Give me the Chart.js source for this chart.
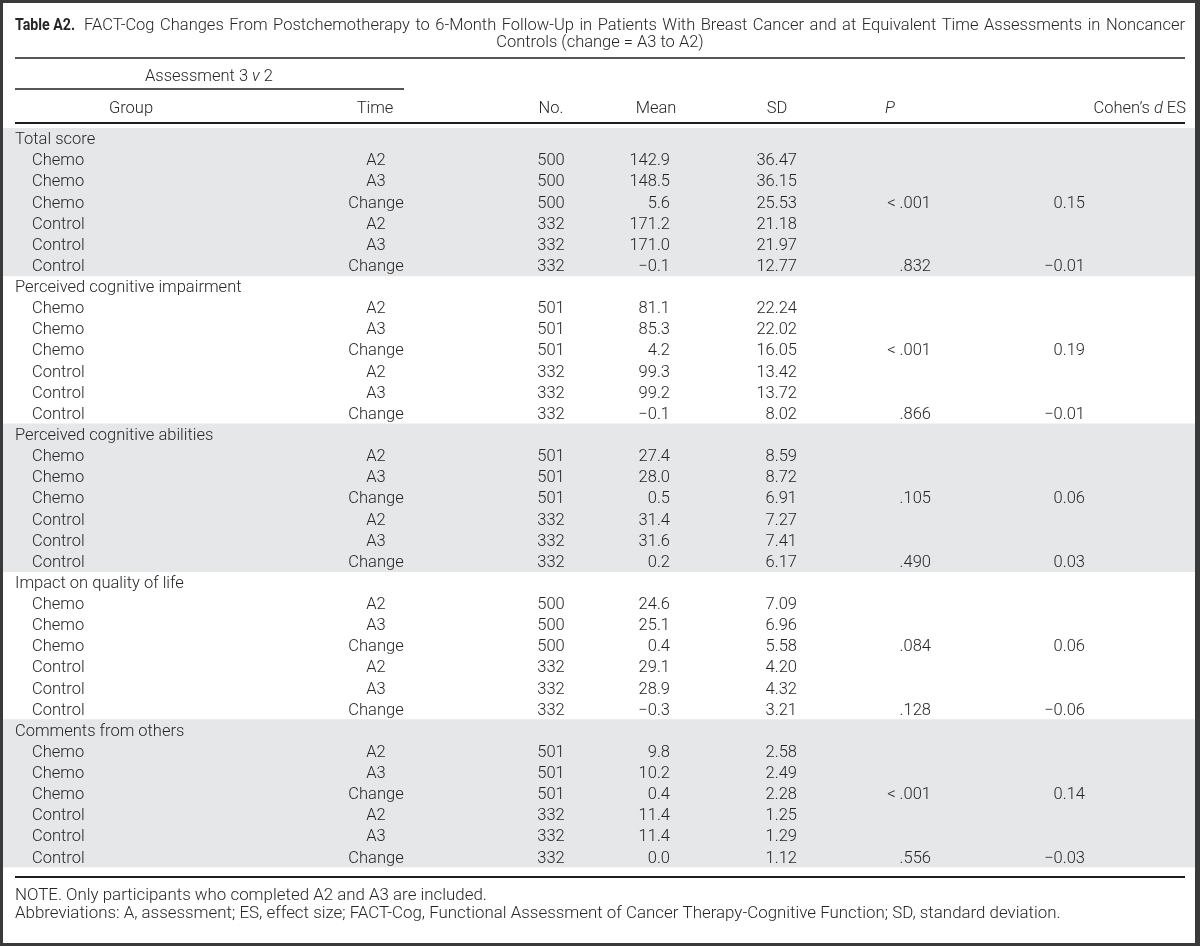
<!DOCTYPE html>
<html lang="en">
<head>
    <meta charset="UTF-8">
    <title>Table A2</title>
    <script src="https://cdn.jsdelivr.net/npm/chart.js"></script>
    <style>
        html, body {
            margin: 0;
            padding: 0;
            background: #fff;
            overflow: hidden;
        }
        .table-wrap {
            width: 1200px;
            height: 946px;
            position: relative;
        }
    </style>
</head>
<body>
    <div class="table-wrap">
        <canvas id="tableChart"></canvas>
    </div>

    <script>
        // Table values
        const sections = ['Total score', 'Perceived cognitive impairment', 'Perceived cognitive abilities',
            'Impact on quality of life', 'Comments from others'];
        const groupLabels = ['Chemo', 'Chemo', 'Chemo', 'Control', 'Control', 'Control'];
        const timeLabels = ['A2', 'A3', 'Change', 'A2', 'A3', 'Change'];
        const nValues = [
            [500, 500, 500, 332, 332, 332],
            [501, 501, 501, 332, 332, 332],
            [501, 501, 501, 332, 332, 332],
            [500, 500, 500, 332, 332, 332],
            [501, 501, 501, 332, 332, 332]
        ];
        const meanValues = [
            [142.9, 148.5, 5.6, 171.2, 171.0, -0.1],
            [81.1, 85.3, 4.2, 99.3, 99.2, -0.1],
            [27.4, 28.0, 0.5, 31.4, 31.6, 0.2],
            [24.6, 25.1, 0.4, 29.1, 28.9, -0.3],
            [9.8, 10.2, 0.4, 11.4, 11.4, 0.0]
        ];
        const sdValues = [
            [36.47, 36.15, 25.53, 21.18, 21.97, 12.77],
            [22.24, 22.02, 16.05, 13.42, 13.72, 8.02],
            [8.59, 8.72, 6.91, 7.27, 7.41, 6.17],
            [7.09, 6.96, 5.58, 4.20, 4.32, 3.21],
            [2.58, 2.49, 2.28, 1.25, 1.29, 1.12]
        ];
        // P and effect size only on the two "Change" rows of each section
        const pValues = [
            ['< .001', '.832'],
            ['< .001', '.866'],
            ['.105', '.490'],
            ['.084', '.128'],
            ['< .001', '.556']
        ];
        const esValues = [
            [0.15, -0.01],
            [0.19, -0.01],
            [0.06, 0.03],
            [0.06, -0.06],
            [0.14, -0.03]
        ];
        const titleLabel = 'Table A2.';
        const titleLine1 = 'FACT-Cog Changes From Postchemotherapy to 6-Month Follow-Up in Patients With Breast Cancer and at Equivalent Time Assessments in Noncancer';
        const titleLine2 = 'Controls (change = A3 to A2)';
        const noteLines = [
            'NOTE. Only participants who completed A2 and A3 are included.',
            'Abbreviations: A, assessment; ES, effect size; FACT-Cog, Functional Assessment of Cancer Therapy-Cognitive Function; SD, standard deviation.'
        ];

        // Build the row list (one category per printed row)
        const rows = [];
        sections.forEach((name, s) => {
            rows.push({ kind: 'section', label: name, section: s });
            for (let r = 0; r < 6; r++) {
                const change = timeLabels[r] === 'Change';
                const which = r < 3 ? 0 : 1;
                rows.push({
                    kind: 'data',
                    section: s,
                    group: groupLabels[r],
                    time: timeLabels[r],
                    n: nValues[s][r],
                    mean: meanValues[s][r],
                    sd: sdValues[s][r],
                    p: change ? pValues[s][which] : null,
                    es: change ? esValues[s][which] : null
                });
            }
        });
        const rowLabels = rows.map(r => r.kind === 'section' ? r.label : r.group + ' ' + r.time);
        // shaded bands on every other section
        const bandData = rows.map(r => r.section % 2 === 0 ? [3, 1195] : null);

        const fmt = (v, d) => (v < 0 ? '\u2212' : '') + Math.abs(v).toFixed(d);

        const TEXT = '#262626';
        const FONT = 'Roboto';
        const SIZE = 16.5;
        const DY = 1.5; // canvas "middle" sits a bit high for this face

        function setFont(ctx, seg) {
            ctx.font = (seg.i ? 'italic ' : '') + (seg.b ? '700 ' : '300 ') + (seg.size || SIZE) + 'px ' + FONT;
        }

        function segWidth(ctx, seg) {
            setFont(ctx, seg);
            return ctx.measureText(seg.t).width * (seg.sx || 1);
        }

        function drawRich(ctx, segs, x, y, align) {
            const total = segs.reduce((a, s) => a + segWidth(ctx, s), 0);
            let cx = align === 'center' ? x - total / 2 : align === 'right' ? x - total : x;
            segs.forEach(s => {
                const w = segWidth(ctx, s);
                ctx.save();
                setFont(ctx, s);
                ctx.translate(cx, y + DY);
                ctx.scale(s.sx || 1, 1);
                ctx.textAlign = 'left';
                ctx.textBaseline = 'middle';
                ctx.fillStyle = TEXT;
                ctx.fillText(s.t, 0, 0);
                ctx.restore();
                cx += w;
            });
            return cx;
        }

        function drawText(ctx, str, x, y, align, size) {
            drawRich(ctx, [{ t: str, size: size }], x, y, align);
        }

        // words spread so the line fills x1..x2
        function drawJustified(ctx, str, x1, x2, y) {
            const words = str.split(' ');
            const widths = words.map(w => segWidth(ctx, { t: w }));
            const gap = (x2 - x1 - widths.reduce((a, b) => a + b, 0)) / (words.length - 1);
            let cx = x1;
            words.forEach((w, k) => {
                drawText(ctx, w, cx, y, 'left');
                cx += widths[k] + gap;
            });
        }

        function rule(ctx, x1, x2, y, w) {
            ctx.save();
            ctx.strokeStyle = '#1e1e1e';
            ctx.lineWidth = w;
            ctx.beginPath();
            ctx.moveTo(x1, y);
            ctx.lineTo(x2, y);
            ctx.stroke();
            ctx.restore();
        }

        const tablePlugin = {
            id: 'tableText',
            afterDatasetsDraw(chart) {
                const ctx = chart.ctx;
                const x = chart.scales.x;
                const y = chart.scales.y;

                // frame
                ctx.save();
                ctx.fillStyle = '#3a3a3a';
                ctx.fillRect(0, 0, 1200, 3);
                ctx.fillRect(0, 943, 1200, 3);
                ctx.fillRect(0, 0, 3, 946);
                ctx.fillRect(1195, 0, 5, 946);
                ctx.restore();

                // title
                const after = drawRich(ctx, [{ t: titleLabel, b: true, sx: 0.86 }], 15, 24, 'left');
                drawJustified(ctx, titleLine1, after + 9, 1185, 24);
                drawText(ctx, titleLine2, 600, 41, 'center');
                rule(ctx, 15, 1185, 58, 1.6);

                // column headers
                drawRich(ctx, [{ t: 'Assessment 3 ' }, { t: 'v', i: true }, { t: ' 2' }], 209, 75, 'center');
                rule(ctx, 15, 404, 89, 1.4);
                drawText(ctx, 'Group', x.getPixelForValue(131), 107, 'center');
                drawText(ctx, 'Time', x.getPixelForValue(375), 107, 'center');
                drawText(ctx, 'No.', x.getPixelForValue(551), 107, 'center');
                drawText(ctx, 'Mean', x.getPixelForValue(656), 107, 'center');
                drawText(ctx, 'SD', x.getPixelForValue(777), 107, 'center');
                drawRich(ctx, [{ t: 'P', i: true }], x.getPixelForValue(890), 107, 'center');
                drawRich(ctx, [{ t: 'Cohen\u2019s ' }, { t: 'd', i: true }, { t: ' ES' }], x.getPixelForValue(1186), 107, 'right');
                rule(ctx, 15, 1185, 123, 1.8);

                // body
                rows.forEach((r, i) => {
                    const py = y.getPixelForValue(i);
                    if (r.kind === 'section') {
                        drawText(ctx, r.label, x.getPixelForValue(15), py, 'left');
                        return;
                    }
                    drawText(ctx, r.group, x.getPixelForValue(32), py, 'left');
                    drawText(ctx, r.time, x.getPixelForValue(376), py, 'center');
                    drawText(ctx, String(r.n), x.getPixelForValue(551), py, 'center');
                    drawText(ctx, fmt(r.mean, 1), x.getPixelForValue(670), py, 'right');
                    drawText(ctx, r.sd.toFixed(2), x.getPixelForValue(797), py, 'right');
                    if (r.p !== null) drawText(ctx, r.p, x.getPixelForValue(931), py, 'right');
                    if (r.es !== null) drawText(ctx, fmt(r.es, 2), x.getPixelForValue(1085), py, 'right');
                });

                rule(ctx, 15, 1185, 877, 1.8);
                drawText(ctx, noteLines[0], 15, 894, 'left', 16.9);
                drawText(ctx, noteLines[1], 15, 912, 'left', 16.9);
            }
        };

        new Chart(document.getElementById('tableChart'), {
            type: 'bar',
            data: {
                labels: rowLabels,
                datasets: [{
                    data: bandData,
                    backgroundColor: 'rgb(230, 231, 232)',
                    borderWidth: 0,
                    barPercentage: 1,
                    categoryPercentage: 1
                }]
            },
            options: {
                indexAxis: 'y',
                animation: false,
                responsive: true,
                maintainAspectRatio: false,
                layout: { padding: { top: 128, bottom: 946 - 867.5, left: 0, right: 0 } },
                scales: {
                    x: { type: 'linear', min: 0, max: 1200, display: false },
                    y: { display: false }
                },
                plugins: {
                    legend: { display: false },
                    tooltip: { enabled: false }
                }
            },
            plugins: [tablePlugin]
        });
    </script>
</body>
</html>
